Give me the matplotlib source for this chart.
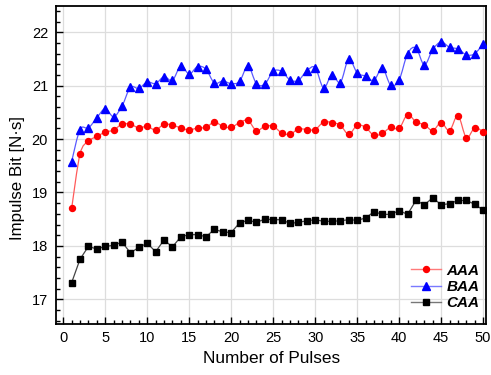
import numpy as np
import matplotlib
matplotlib.use("Agg")
import matplotlib.pyplot as plt
from matplotlib.path import Path
from matplotlib.patches import PathPatch
from matplotlib.lines import Line2D
from matplotlib.ticker import MultipleLocator

plt.rcParams['font.family'] = ['Liberation Sans', 'DejaVu Sans']

# data
pulses = np.arange(1, 51)

aaa = [18.70, 19.72, 19.96, 20.05, 20.13, 20.17, 20.28, 20.28, 20.21, 20.24,
       20.17, 20.28, 20.26, 20.21, 20.17, 20.21, 20.22, 20.32, 20.24, 20.22,
       20.31, 20.35, 20.16, 20.24, 20.24, 20.12, 20.09, 20.19, 20.18, 20.18,
       20.32, 20.31, 20.26, 20.09, 20.26, 20.22, 20.07, 20.11, 20.22, 20.20,
       20.46, 20.32, 20.27, 20.16, 20.31, 20.16, 20.44, 20.03, 20.21, 20.14]

baa = [19.58, 20.18, 20.21, 20.40, 20.57, 20.42, 20.62, 20.97, 20.95, 21.07,
       21.04, 21.17, 21.10, 21.37, 21.22, 21.36, 21.31, 21.05, 21.09, 21.04,
       21.08, 21.37, 21.04, 21.03, 21.27, 21.27, 21.11, 21.10, 21.28, 21.34,
       20.96, 21.21, 21.06, 21.50, 21.24, 21.18, 21.10, 21.33, 21.01, 21.11,
       21.60, 21.71, 21.39, 21.68, 21.82, 21.72, 21.69, 21.58, 21.60, 21.79]

caa = [17.31, 17.75, 17.99, 17.94, 17.99, 18.01, 18.07, 17.87, 17.97, 18.05,
       17.89, 18.11, 17.98, 18.17, 18.21, 18.21, 18.17, 18.31, 18.26, 18.25,
       18.43, 18.48, 18.44, 18.50, 18.49, 18.49, 18.42, 18.44, 18.47, 18.49,
       18.46, 18.46, 18.47, 18.49, 18.48, 18.52, 18.64, 18.59, 18.59, 18.66,
       18.59, 18.85, 18.77, 18.90, 18.77, 18.79, 18.85, 18.85, 18.78, 18.67]

names = ["AAA", "BAA", "CAA"]


def smooth_path(x, y):
    # catmull-rom through the points, handed to matplotlib as cubic beziers
    pts = np.column_stack([np.asarray(x, float), np.asarray(y, float)])
    verts = [pts[0]]
    codes = [Path.MOVETO]
    n = len(pts)
    for i in range(n - 1):
        p0 = pts[i - 1] if i > 0 else pts[i]
        p1 = pts[i]
        p2 = pts[i + 1]
        p3 = pts[i + 2] if i + 2 < n else pts[i + 1]
        verts += [p1 + (p2 - p0) / 6., p2 - (p3 - p1) / 6., p2]
        codes += [Path.CURVE4] * 3
    return Path(verts, codes)


fig = plt.figure(figsize=(4.91, 3.75), dpi=100)
ax = fig.add_axes([0.1134, 0.1352, 0.8774, 0.8496])

# smooth lines for AAA and BAA, straight for CAA
ax.add_patch(PathPatch(smooth_path(pulses, aaa), fill=False, ec='#ff5a5a', lw=0.9, zorder=3))
ax.plot(pulses, aaa, ls='none', marker='o', ms=4.3, color='red', mec='red', zorder=4)

ax.add_patch(PathPatch(smooth_path(pulses, baa), fill=False, ec='#5a5aff', lw=0.9, zorder=3))
ax.plot(pulses, baa, ls='none', marker='^', ms=5.2, color='blue', mec='blue', zorder=4)

ax.plot(pulses, caa, ls='-', lw=0.9, color='#444444', marker='s', ms=3.8,
        mfc='black', mec='black', zorder=4)

ax.set_xlim(-0.9, 50.4)
ax.set_ylim(16.53, 22.5)

ax.xaxis.set_major_locator(MultipleLocator(5))
ax.xaxis.set_minor_locator(MultipleLocator(1))
ax.yaxis.set_major_locator(MultipleLocator(1))
ax.yaxis.set_minor_locator(MultipleLocator(0.2))
ax.tick_params(which='both', direction='in', top=False, right=False,
               labelsize=10.5, width=1.0)
ax.tick_params(which='major', length=5)
ax.tick_params(which='minor', length=3)
ax.tick_params(axis='x', pad=5)
ax.tick_params(axis='y', pad=5.5)

ax.grid(True, which='major', color='#dddddd', lw=0.9)
ax.set_axisbelow(True)
for sp in ax.spines.values():
    sp.set_linewidth(1.3)

ax.set_xlabel("Number of Pulses", size=12.4, labelpad=4.5)
ax.set_ylabel("Impulse Bit [N\u00b7s]", size=12.2)
ax.yaxis.set_label_coords(-0.072, 0.459)

handles = [
    Line2D([], [], color='#ff7a7a', lw=1.0, marker='o', ms=4.3, mfc='red', mec='red'),
    Line2D([], [], color='#7a7aff', lw=1.0, marker='^', ms=5.2, mfc='blue', mec='blue'),
    Line2D([], [], color='#777777', lw=1.0, marker='s', ms=3.8, mfc='black', mec='black'),
]
leg = ax.legend(handles, names, loc='lower right',
                bbox_to_anchor=(1.012, 0.005), frameon=False, handlelength=2.0,
                labelspacing=0.16, handletextpad=0.35, borderpad=0.3,
                prop={'weight': 'bold', 'style': 'italic', 'size': 11})

fig.savefig("out.png", dpi=100)
